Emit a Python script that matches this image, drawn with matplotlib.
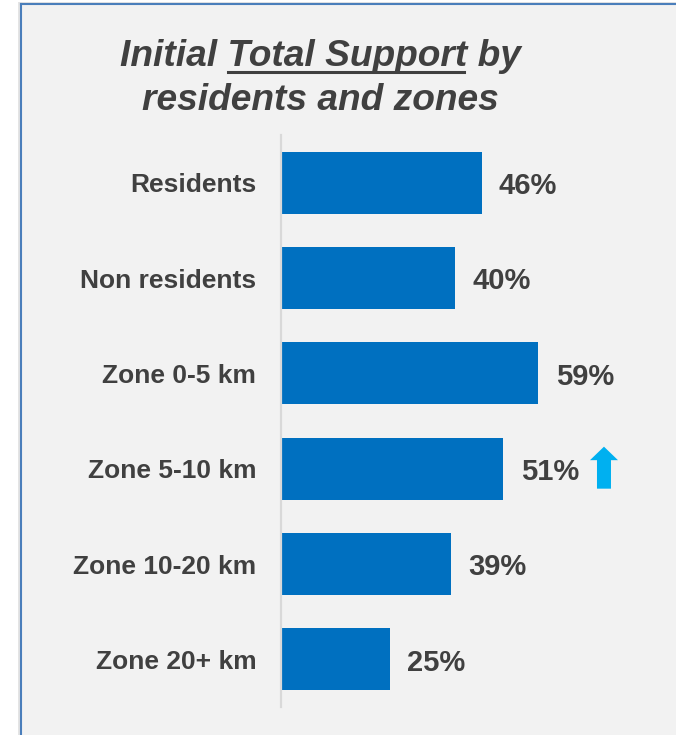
#!/usr/bin/env python3
"""Initial total support by residents and zones, horizontal bar chart."""

import matplotlib.pyplot as plt
from matplotlib.patches import Polygon, Rectangle
from matplotlib.lines import Line2D
from matplotlib.transforms import IdentityTransform

CATEGORIES = ["Residents", "Non residents", "Zone 0-5 km", "Zone 5-10 km",
              "Zone 10-20 km", "Zone 20+ km"]
SUPPORT = [46, 40, 59, 51, 39, 25]
TREND = ["", "", "", "up", "", ""]

BAR = "#0070c0"
TEXT = "#404040"
ARROW = "#00b0f0"
W, H, DPI = 676, 735, 100


def main():
    plt.rcParams["font.family"] = ["Liberation Sans", "DejaVu Sans"]
    fig = plt.figure(figsize=(W / DPI, H / DPI), dpi=DPI, facecolor="white")

    # panel with blue left/top border and a faint shadow
    fig.add_artist(Rectangle((17.5 / W, 0), 1, 1 - 2 / H, transform=fig.transFigure,
                             facecolor="#e4e4e4", edgecolor="none", zorder=0))
    fig.add_artist(Rectangle((20 / W, 0), 1, 1 - 3.5 / H, transform=fig.transFigure,
                             facecolor="#f2f2f2", edgecolor="none", zorder=0))
    fig.add_artist(Line2D([20.5 / W, 20.5 / W], [0, 1 - 3.5 / H],
                          transform=fig.transFigure, color="#4a7ebb", lw=1.5))
    fig.add_artist(Line2D([20.5 / W, 1], [1 - 3.5 / H, 1 - 3.5 / H],
                          transform=fig.transFigure, color="#4a7ebb", lw=1.5))

    x0, x1, ytop, ybot = 280.5, 660, 135, 707
    ax = fig.add_axes([x0 / W, 1 - ybot / H, (x1 - x0) / W, (ybot - ytop) / H])
    ax.set_facecolor("none")
    ypos = list(range(len(CATEGORIES)))
    ax.barh(ypos, SUPPORT, height=0.65, color=BAR, zorder=2)
    ax.set_xlim(0, (x1 - x0) / 4.37)
    ax.set_ylim(len(CATEGORIES) - 0.5, -0.5)
    for s in ["top", "right", "bottom"]:
        ax.spines[s].set_visible(False)
    ax.spines["left"].set_color("#d9d9d9")
    ax.spines["left"].set_linewidth(1.6)
    ax.set_xticks([])
    ax.set_yticks(ypos)
    ax.set_yticklabels(CATEGORIES, fontsize=19, fontweight="bold", color=TEXT)
    ax.tick_params(axis="y", length=0, pad=17.5)

    labels = []
    for i, v in enumerate(SUPPORT):
        labels.append(ax.annotate(f"{v}%", xy=(v, i), xytext=(12.5, -2.5),
                                  textcoords="offset points", ha="left",
                                  va="center", fontsize=21, fontweight="bold",
                                  color=TEXT))

    # title, with "Total Support" underlined
    cx = 320 / W
    tkw = dict(ha="center", va="baseline", fontsize=26.7, fontweight="bold",
               fontstyle="italic", color=TEXT)
    line1 = fig.text(cx, 1 - 66.5 / H, "Initial Total Support by", **tkw)
    fig.text(cx, 1 - 110 / H, "residents and zones", **tkw)

    fig.canvas.draw()
    r = fig.canvas.get_renderer()
    bb = line1.get_window_extent(r)

    def width(s):
        t = fig.text(0, 0, s, **tkw)
        w = t.get_window_extent(r).width
        t.remove()
        return w

    end = bb.x0 + width("Initial Total Support")
    start = end - width("Total Support")
    uy = H - 72
    fig.add_artist(Line2D([start + 1, end - 3], [uy, uy], transform=IdentityTransform(),
                          color=TEXT, lw=2.2))

    # trend arrow next to value label
    for i, tr in enumerate(TREND):
        if tr != "up":
            continue
        tb = labels[i].get_window_extent(r)
        cy = ax.transData.transform((0, i))[1] + 1
        lx = tb.x1 + 11
        pts = [(lx + 14, cy + 21), (lx, cy + 7.5), (lx + 7, cy + 7.5),
               (lx + 7, cy - 21), (lx + 21, cy - 21), (lx + 21, cy + 7.5),
               (lx + 28, cy + 7.5)]
        fig.add_artist(Polygon(pts, closed=True, transform=IdentityTransform(),
                               facecolor=ARROW, edgecolor="none"))

    fig.savefig("out.png", dpi=DPI, facecolor="white")
    plt.close(fig)


if __name__ == "__main__":
    main()
